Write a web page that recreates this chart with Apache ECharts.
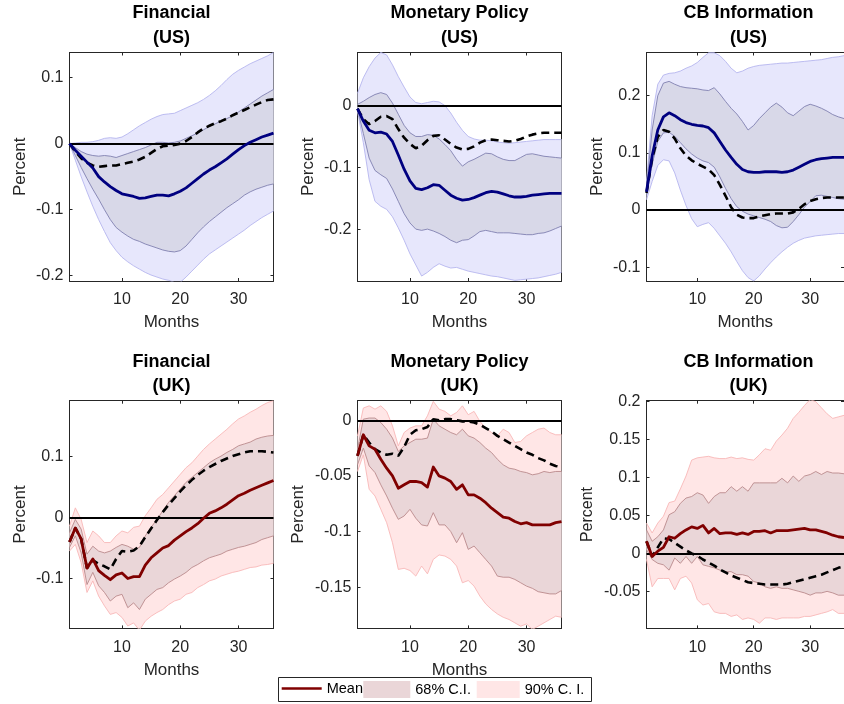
<!DOCTYPE html>
<html>
<head>
<meta charset="utf-8">
<script src="https://cdn.jsdelivr.net/npm/echarts@6/dist/echarts.min.js"></script>
<style>
  html, body { margin: 0; padding: 0; background: #ffffff; }
  #chart { width: 844px; height: 704px; }
</style>
</head>
<body>
<div id="chart"></div>
<script>
// Impulse responses (percent) over a 36-month horizon, six panels.
const months = [1,2,3,4,5,6,7,8,9,10,11,12,13,14,15,16,17,18,19,20,21,22,23,24,25,26,27,28,29,30,31,32,33,34,35,36];
const xTickValues = [10, 20, 30];

// ---- Financial (US)
const finUS_mean = [0,-0.010,-0.019,-0.028,-0.037,-0.050,-0.058,-0.065,-0.071,-0.076,-0.078,-0.080,-0.083,-0.082,-0.080,-0.078,-0.078,-0.079,-0.076,-0.072,-0.067,-0.060,-0.053,-0.046,-0.040,-0.035,-0.029,-0.023,-0.016,-0.009,-0.003,0.002,0.006,0.010,0.013,0.016];
const finUS_dash = [0,-0.012,-0.022,-0.029,-0.033,-0.035,-0.034,-0.033,-0.033,-0.031,-0.029,-0.027,-0.024,-0.020,-0.014,-0.008,-0.004,-0.003,-0.002,0.000,0.004,0.010,0.017,0.023,0.027,0.031,0.034,0.038,0.043,0.047,0.051,0.055,0.059,0.063,0.066,0.067];
const finUS_hi90 = [0,0.001,0.002,0.002,0.003,0.005,0.008,0.009,0.008,0.010,0.015,0.021,0.027,0.032,0.037,0.041,0.044,0.045,0.046,0.050,0.054,0.058,0.062,0.067,0.073,0.080,0.088,0.097,0.105,0.111,0.116,0.121,0.125,0.129,0.133,0.138];
const finUS_hi68 = [0,-0.006,-0.012,-0.016,-0.018,-0.019,-0.018,-0.019,-0.021,-0.018,-0.015,-0.012,-0.009,-0.006,-0.002,0.002,0.002,0.001,0.002,0.004,0.008,0.012,0.016,0.021,0.026,0.030,0.034,0.038,0.042,0.048,0.054,0.060,0.066,0.072,0.077,0.082];
const finUS_lo68 = [0,-0.018,-0.036,-0.053,-0.069,-0.084,-0.100,-0.115,-0.127,-0.134,-0.140,-0.145,-0.148,-0.152,-0.155,-0.158,-0.161,-0.163,-0.164,-0.162,-0.155,-0.145,-0.135,-0.126,-0.118,-0.111,-0.104,-0.097,-0.091,-0.085,-0.078,-0.073,-0.069,-0.066,-0.063,-0.061];
const finUS_lo90 = [0,-0.025,-0.050,-0.073,-0.095,-0.115,-0.133,-0.150,-0.162,-0.172,-0.179,-0.185,-0.190,-0.195,-0.199,-0.202,-0.205,-0.207,-0.210,-0.210,-0.202,-0.193,-0.184,-0.175,-0.167,-0.161,-0.155,-0.149,-0.143,-0.137,-0.131,-0.124,-0.118,-0.112,-0.107,-0.102];

// ---- Monetary Policy (US)
const mpUS_mean = [-0.005,-0.025,-0.040,-0.044,-0.043,-0.046,-0.058,-0.080,-0.103,-0.122,-0.134,-0.136,-0.133,-0.128,-0.129,-0.137,-0.145,-0.150,-0.153,-0.152,-0.149,-0.145,-0.141,-0.139,-0.140,-0.143,-0.146,-0.148,-0.148,-0.147,-0.145,-0.144,-0.143,-0.142,-0.142,-0.142];
const mpUS_dash = [-0.005,-0.022,-0.030,-0.025,-0.018,-0.017,-0.022,-0.038,-0.052,-0.062,-0.069,-0.065,-0.056,-0.049,-0.048,-0.055,-0.062,-0.068,-0.071,-0.070,-0.066,-0.060,-0.056,-0.055,-0.056,-0.057,-0.058,-0.057,-0.054,-0.050,-0.047,-0.045,-0.044,-0.044,-0.044,-0.044];
const mpUS_hi90 = [0.020,0.045,0.063,0.077,0.086,0.082,0.066,0.047,0.030,0.014,0.005,0.003,0.005,0.007,0.006,0.000,-0.012,-0.027,-0.040,-0.050,-0.054,-0.056,-0.056,-0.057,-0.059,-0.060,-0.061,-0.060,-0.059,-0.058,-0.057,-0.056,-0.055,-0.055,-0.055,-0.055];
const mpUS_hi68 = [0.002,0.007,0.013,0.018,0.021,0.018,0.004,-0.014,-0.032,-0.044,-0.050,-0.050,-0.047,-0.048,-0.054,-0.063,-0.073,-0.087,-0.098,-0.091,-0.087,-0.082,-0.077,-0.078,-0.083,-0.087,-0.089,-0.089,-0.084,-0.079,-0.078,-0.080,-0.082,-0.083,-0.084,-0.085];
const mpUS_lo68 = [-0.006,-0.045,-0.085,-0.105,-0.112,-0.118,-0.135,-0.155,-0.175,-0.190,-0.200,-0.202,-0.200,-0.203,-0.207,-0.212,-0.218,-0.222,-0.218,-0.217,-0.211,-0.204,-0.202,-0.204,-0.206,-0.206,-0.206,-0.207,-0.208,-0.209,-0.209,-0.207,-0.206,-0.203,-0.199,-0.195];
const mpUS_lo90 = [-0.009,-0.060,-0.120,-0.155,-0.163,-0.168,-0.180,-0.198,-0.218,-0.240,-0.258,-0.276,-0.270,-0.262,-0.256,-0.260,-0.263,-0.262,-0.265,-0.268,-0.270,-0.272,-0.274,-0.276,-0.277,-0.279,-0.281,-0.283,-0.282,-0.281,-0.280,-0.279,-0.277,-0.275,-0.273,-0.270];

// ---- CB Information (US)
const cbUS_mean = [0.032,0.095,0.140,0.163,0.170,0.165,0.158,0.153,0.150,0.148,0.147,0.144,0.135,0.120,0.105,0.092,0.080,0.071,0.067,0.066,0.066,0.067,0.067,0.067,0.066,0.067,0.070,0.075,0.080,0.085,0.088,0.090,0.091,0.092,0.092,0.092];
const cbUS_dash = [0.030,0.090,0.128,0.140,0.137,0.125,0.108,0.095,0.087,0.081,0.076,0.071,0.061,0.044,0.025,0.005,-0.008,-0.013,-0.014,-0.014,-0.011,-0.009,-0.007,-0.006,-0.006,-0.006,-0.004,0.002,0.010,0.016,0.019,0.021,0.022,0.022,0.022,0.022];
const cbUS_hi90 = [0.050,0.165,0.220,0.236,0.239,0.240,0.243,0.248,0.252,0.258,0.267,0.275,0.275,0.270,0.260,0.248,0.240,0.243,0.248,0.251,0.253,0.254,0.255,0.256,0.257,0.257,0.258,0.259,0.260,0.261,0.262,0.263,0.265,0.267,0.268,0.270];
const cbUS_hi68 = [0.038,0.140,0.200,0.222,0.225,0.220,0.216,0.214,0.213,0.212,0.210,0.209,0.214,0.203,0.190,0.178,0.168,0.155,0.140,0.148,0.160,0.170,0.180,0.187,0.180,0.170,0.165,0.173,0.181,0.185,0.182,0.178,0.173,0.167,0.163,0.160];
const cbUS_lo68 = [0.026,0.080,0.120,0.135,0.136,0.129,0.118,0.107,0.098,0.091,0.086,0.083,0.075,0.058,0.038,0.020,0.006,-0.002,-0.007,-0.010,-0.013,-0.016,-0.020,-0.027,-0.031,-0.030,-0.020,-0.008,0.005,0.015,0.025,0.026,0.024,0.022,0.020,0.019];
const cbUS_lo90 = [0.018,0.050,0.078,0.088,0.086,0.065,0.035,0.008,-0.015,-0.029,-0.025,-0.022,-0.032,-0.045,-0.058,-0.073,-0.090,-0.106,-0.118,-0.124,-0.115,-0.103,-0.092,-0.082,-0.073,-0.065,-0.058,-0.053,-0.049,-0.047,-0.045,-0.044,-0.043,-0.042,-0.041,-0.041];

// ---- Financial (UK)
const finUK_mean = [-0.040,-0.017,-0.035,-0.083,-0.068,-0.087,-0.095,-0.102,-0.094,-0.091,-0.100,-0.097,-0.097,-0.078,-0.066,-0.058,-0.050,-0.046,-0.037,-0.030,-0.023,-0.017,-0.010,-0.001,0.007,0.011,0.016,0.022,0.029,0.036,0.040,0.045,0.049,0.053,0.057,0.061];
const finUK_dash = [-0.040,-0.017,-0.035,-0.083,-0.070,-0.076,-0.080,-0.085,-0.068,-0.055,-0.056,-0.054,-0.047,-0.032,-0.018,-0.004,0.009,0.021,0.032,0.043,0.053,0.062,0.070,0.077,0.083,0.088,0.093,0.097,0.101,0.104,0.107,0.109,0.109,0.109,0.108,0.107];
const finUK_hi90 = [-0.014,0.016,-0.003,-0.041,-0.022,-0.030,-0.041,-0.041,-0.030,-0.022,-0.025,-0.016,-0.014,0.003,0.016,0.030,0.038,0.049,0.060,0.071,0.082,0.090,0.101,0.112,0.121,0.129,0.137,0.145,0.154,0.162,0.167,0.173,0.178,0.184,0.189,0.192];
const finUK_hi68 = [-0.025,-0.003,-0.019,-0.060,-0.047,-0.055,-0.058,-0.055,-0.049,-0.044,-0.047,-0.052,-0.049,-0.030,-0.016,-0.003,0.011,0.025,0.036,0.047,0.058,0.066,0.074,0.082,0.090,0.096,0.101,0.107,0.112,0.118,0.121,0.124,0.129,0.132,0.134,0.135];
const finUK_lo68 = [-0.049,-0.030,-0.058,-0.110,-0.090,-0.112,-0.123,-0.137,-0.129,-0.126,-0.148,-0.140,-0.151,-0.134,-0.126,-0.118,-0.115,-0.107,-0.101,-0.096,-0.090,-0.082,-0.077,-0.071,-0.066,-0.063,-0.060,-0.055,-0.052,-0.049,-0.047,-0.044,-0.041,-0.036,-0.033,-0.030];
const finUK_lo90 = [-0.055,-0.044,-0.074,-0.123,-0.104,-0.129,-0.145,-0.159,-0.156,-0.164,-0.178,-0.173,-0.185,-0.170,-0.162,-0.156,-0.151,-0.143,-0.137,-0.134,-0.126,-0.123,-0.115,-0.110,-0.104,-0.101,-0.096,-0.093,-0.090,-0.088,-0.085,-0.082,-0.081,-0.078,-0.077,-0.075];

// ---- Monetary Policy (UK)
const mpUK_mean = [-0.032,-0.013,-0.023,-0.026,-0.035,-0.043,-0.050,-0.061,-0.058,-0.055,-0.055,-0.056,-0.060,-0.042,-0.050,-0.052,-0.055,-0.062,-0.058,-0.067,-0.067,-0.070,-0.074,-0.079,-0.083,-0.087,-0.088,-0.091,-0.093,-0.092,-0.094,-0.094,-0.094,-0.094,-0.092,-0.091];
const mpUK_dash = [-0.032,-0.013,-0.020,-0.026,-0.029,-0.031,-0.030,-0.032,-0.024,-0.013,-0.009,-0.008,-0.006,0.001,0.000,0.001,0.001,0.000,-0.001,-0.001,-0.002,-0.004,-0.007,-0.010,-0.014,-0.017,-0.020,-0.023,-0.026,-0.029,-0.031,-0.034,-0.036,-0.039,-0.041,-0.042];
const mpUK_hi90 = [-0.014,0.011,0.013,0.010,0.013,0.008,-0.005,-0.023,-0.011,-0.007,-0.005,-0.005,0.004,0.017,0.010,0.008,0.004,0.007,0.013,0.005,0.008,-0.001,-0.007,-0.011,-0.014,-0.008,-0.011,-0.020,-0.019,-0.014,-0.011,-0.008,-0.007,-0.011,-0.013,-0.013];
const mpUK_hi68 = [-0.026,0.001,0.002,0.002,-0.002,-0.008,-0.016,-0.028,-0.023,-0.020,-0.017,-0.017,-0.016,0.001,-0.005,-0.008,-0.011,-0.013,-0.008,-0.014,-0.016,-0.020,-0.025,-0.029,-0.035,-0.040,-0.043,-0.044,-0.046,-0.047,-0.049,-0.048,-0.046,-0.047,-0.046,-0.046];
const mpUK_lo68 = [-0.040,-0.025,-0.041,-0.047,-0.058,-0.068,-0.079,-0.089,-0.086,-0.080,-0.088,-0.094,-0.095,-0.083,-0.094,-0.094,-0.100,-0.110,-0.101,-0.116,-0.113,-0.119,-0.125,-0.131,-0.140,-0.141,-0.141,-0.143,-0.146,-0.149,-0.151,-0.154,-0.155,-0.156,-0.156,-0.153];
const mpUK_lo90 = [-0.046,-0.031,-0.062,-0.068,-0.080,-0.092,-0.110,-0.134,-0.133,-0.135,-0.140,-0.131,-0.138,-0.125,-0.121,-0.122,-0.125,-0.131,-0.146,-0.144,-0.149,-0.158,-0.165,-0.170,-0.174,-0.177,-0.179,-0.182,-0.185,-0.183,-0.188,-0.185,-0.182,-0.179,-0.176,-0.177];

// ---- CB Information (UK)
const cbUK_mean = [0.016,-0.004,0.003,0.008,0.022,0.020,0.026,0.031,0.035,0.033,0.037,0.027,0.033,0.026,0.027,0.027,0.025,0.027,0.025,0.029,0.029,0.030,0.027,0.030,0.030,0.030,0.031,0.032,0.033,0.031,0.031,0.029,0.027,0.024,0.022,0.021];
const cbUK_dash = [0.016,-0.004,0.008,0.020,0.019,0.014,0.009,0.004,0.000,-0.003,-0.008,-0.012,-0.016,-0.021,-0.025,-0.029,-0.032,-0.035,-0.038,-0.039,-0.040,-0.041,-0.041,-0.041,-0.041,-0.040,-0.038,-0.036,-0.034,-0.032,-0.030,-0.028,-0.025,-0.022,-0.019,-0.017];
const cbUK_hi90 = [0.040,0.027,0.040,0.049,0.067,0.069,0.085,0.102,0.123,0.126,0.127,0.128,0.126,0.125,0.125,0.127,0.125,0.126,0.124,0.123,0.130,0.138,0.136,0.148,0.156,0.165,0.178,0.186,0.195,0.203,0.200,0.192,0.184,0.178,0.180,0.182];
const cbUK_hi68 = [0.031,0.016,0.022,0.031,0.051,0.055,0.066,0.073,0.075,0.080,0.077,0.066,0.075,0.080,0.080,0.088,0.082,0.088,0.082,0.093,0.093,0.093,0.093,0.093,0.099,0.093,0.102,0.095,0.102,0.104,0.108,0.104,0.108,0.106,0.106,0.105];
const cbUK_lo68 = [0.005,-0.008,-0.013,-0.015,-0.022,-0.006,-0.013,-0.004,-0.013,-0.004,-0.015,-0.017,-0.019,-0.022,-0.024,-0.024,-0.028,-0.028,-0.030,-0.037,-0.039,-0.044,-0.046,-0.044,-0.046,-0.046,-0.048,-0.050,-0.052,-0.055,-0.052,-0.052,-0.050,-0.052,-0.055,-0.055];
const cbUK_lo90 = [-0.008,-0.044,-0.033,-0.033,-0.033,-0.048,-0.033,-0.030,-0.039,-0.061,-0.068,-0.066,-0.077,-0.079,-0.079,-0.083,-0.081,-0.087,-0.085,-0.087,-0.092,-0.085,-0.085,-0.087,-0.085,-0.085,-0.085,-0.085,-0.083,-0.083,-0.081,-0.079,-0.077,-0.074,-0.079,-0.079];

// Y-axis limits and tick labels per panel
const yLimits = [
  [-0.208, 0.138], [-0.284, 0.086], [-0.124, 0.2755],
  [-0.182, 0.192], [-0.187, 0.0176], [-0.0988, 0.2013]
];
const yTickValues = [
  [-0.2, -0.1, 0, 0.1], [-0.2, -0.1, 0], [-0.1, 0, 0.1, 0.2],
  [-0.1, 0, 0.1], [-0.15, -0.1, -0.05, 0], [-0.05, 0, 0.05, 0.1, 0.15, 0.2]
];

const panelTitles = ['Financial', 'Monetary Policy', 'CB Information', 'Financial', 'Monetary Policy', 'CB Information'];
const panelRegions = ['(US)', '(US)', '(US)', '(UK)', '(UK)', '(UK)'];
const legendNames = ['Mean', '68% C.I.', '90% C. I.'];

const panelData = [
  { mean: finUS_mean, dash: finUS_dash, lo68: finUS_lo68, hi68: finUS_hi68, lo90: finUS_lo90, hi90: finUS_hi90 },
  { mean: mpUS_mean,  dash: mpUS_dash,  lo68: mpUS_lo68,  hi68: mpUS_hi68,  lo90: mpUS_lo90,  hi90: mpUS_hi90 },
  { mean: cbUS_mean,  dash: cbUS_dash,  lo68: cbUS_lo68,  hi68: cbUS_hi68,  lo90: cbUS_lo90,  hi90: cbUS_hi90 },
  { mean: finUK_mean, dash: finUK_dash, lo68: finUK_lo68, hi68: finUK_hi68, lo90: finUK_lo90, hi90: finUK_hi90 },
  { mean: mpUK_mean,  dash: mpUK_dash,  lo68: mpUK_lo68,  hi68: mpUK_hi68,  lo90: mpUK_lo90,  hi90: mpUK_hi90 },
  { mean: cbUK_mean,  dash: cbUK_dash,  lo68: cbUK_lo68,  hi68: cbUK_hi68,  lo90: cbUK_lo90,  hi90: cbUK_hi90 }
];

// ---- Styling and layout
const FONT = "'Liberation Sans', Arial, Helvetica, sans-serif";
const AXIS_COLOR = '#262626';
const palettes = {
  US: { mean: '#000080', fill90: 'rgb(231,231,252)', fill68: 'rgb(216,216,232)', edge90: 'rgb(182,182,238)', edge68: 'rgb(128,128,176)' },
  UK: { mean: '#800000', fill90: 'rgb(255,230,230)', fill68: 'rgb(234,214,216)', edge90: 'rgb(248,184,184)', edge68: 'rgb(186,138,140)' }
};
const boxes = [
  { left: 69.5,  top: 52.5,  width: 204, height: 228.5 },
  { left: 357.5, top: 52.5,  width: 204, height: 228.5 },
  { left: 646.5, top: 52.5,  width: 204.2, height: 228.5 },
  { left: 69.5,  top: 400.7, width: 204, height: 227.7 },
  { left: 357.5, top: 400.7, width: 204, height: 227.7 },
  { left: 646.5, top: 400.7, width: 204.2, height: 227.7 }
];
const yNameGaps = [41, 41, 41, 41, 50.5, 50.5];
const axisNameSizes = [17, 17, 17, 17, 17, 16];

const pairs = arr => months.map((m, i) => [m, arr[i]]);
const triples = (lo, hi) => months.map((m, i) => [m, lo[i], hi[i]]);

// Filled confidence band: one polygon built from every [month, lower, upper] row
function bandRenderer(color) {
  return function (params, api) {
    if (params.dataIndexInside !== 0) return;
    const n = params.dataInsideLength;
    const upper = [], lower = [];
    for (let i = 0; i < n; i++) {
      const x = api.value(0, i);
      upper.push(api.coord([x, api.value(2, i)]));
      lower.push(api.coord([x, api.value(1, i)]));
    }
    return {
      type: 'polygon',
      shape: { points: upper.concat(lower.reverse()) },
      style: { fill: color, stroke: null }
    };
  };
}

const grids = [], xAxes = [], yAxes = [], series = [], graphics = [];

panelData.forEach((d, p) => {
  const b = boxes[p];
  const isUK = p >= 3;
  const pal = isUK ? palettes.UK : palettes.US;
  grids.push({ left: b.left, top: b.top, width: b.width, height: b.height, containLabel: false });

  const tickFont = { fontFamily: FONT, fontSize: 16, color: AXIS_COLOR };
  const nameFont = { fontFamily: FONT, fontSize: axisNameSizes[p], color: AXIS_COLOR };
  const line = { show: true, onZero: false, lineStyle: { color: AXIS_COLOR, width: 1 } };
  const tick = vals => ({ show: true, inside: true, length: 3, customValues: vals, lineStyle: { color: AXIS_COLOR } });

  xAxes.push({
    gridIndex: p, type: 'value', position: 'bottom', min: 1, max: 36,
    axisLine: line, splitLine: { show: false }, axisTick: tick(xTickValues),
    axisLabel: { show: true, customValues: xTickValues, margin: 11, ...tickFont },
    name: 'Months', nameLocation: 'middle', nameGap: 33, nameTextStyle: nameFont
  });
  xAxes.push({
    gridIndex: p, type: 'value', position: 'top', min: 1, max: 36,
    axisLine: line, splitLine: { show: false }, axisTick: tick(xTickValues), axisLabel: { show: false }
  });
  yAxes.push({
    gridIndex: p, type: 'value', position: 'left', min: yLimits[p][0], max: yLimits[p][1],
    axisLine: line, splitLine: { show: false }, axisTick: tick(yTickValues[p]),
    axisLabel: { show: true, customValues: yTickValues[p], margin: 6, ...tickFont },
    name: 'Percent', nameLocation: 'middle', nameGap: yNameGaps[p], nameRotate: 90, nameTextStyle: nameFont
  });
  yAxes.push({
    gridIndex: p, type: 'value', position: 'right', min: yLimits[p][0], max: yLimits[p][1],
    axisLine: line, splitLine: { show: false }, axisTick: tick(yTickValues[p]), axisLabel: { show: false }
  });

  const axes = { xAxisIndex: 2 * p, yAxisIndex: 2 * p, silent: true, animation: false };
  const base = { ...axes, type: 'line', symbol: 'none', showSymbol: false };

  // confidence bands
  series.push({ ...axes, type: 'custom', name: isUK ? legendNames[2] : '90% C. I. (US)', clip: true, z: 1,
    itemStyle: { color: pal.fill90 }, encode: { x: 0, y: [1, 2] },
    data: triples(d.lo90, d.hi90), renderItem: bandRenderer(pal.fill90) });
  series.push({ ...axes, type: 'custom', name: isUK ? legendNames[1] : '68% C.I. (US)', clip: true, z: 1,
    itemStyle: { color: pal.fill68 }, encode: { x: 0, y: [1, 2] },
    data: triples(d.lo68, d.hi68), renderItem: bandRenderer(pal.fill68) });
  // band edges
  [['lo90', pal.edge90], ['hi90', pal.edge90], ['lo68', pal.edge68], ['hi68', pal.edge68]].forEach(([k, c]) => {
    series.push({ ...base, name: k + '-edge-' + p, data: pairs(d[k]), lineStyle: { color: c, width: 0.9 }, z: 2 });
  });
  // alternative specification (dashed) with the zero reference line
  series.push({ ...base, name: 'alt-' + p, data: pairs(d.dash),
    lineStyle: { color: '#000000', width: 2.6, type: [8, 5] }, z: 3,
    markLine: { silent: true, symbol: 'none', animation: false, z: 3, label: { show: false },
      lineStyle: { color: '#000000', width: 2, type: 'solid' }, data: [{ yAxis: 0 }] } });
  // mean response
  series.push({ ...base, name: isUK ? legendNames[0] : 'Mean (US)', data: pairs(d.mean),
    itemStyle: { color: pal.mean }, lineStyle: { color: pal.mean, width: 2.8, join: 'round' }, z: 4 });

  // panel title (two lines)
  const cx = b.left + b.width / 2;
  const ty = p < 3 ? 13.5 : 361.7;
  graphics.push({ type: 'text', z: 10, style: { text: panelTitles[p], x: cx, y: ty, align: 'center', verticalAlign: 'middle',
    font: 'bold 18px ' + FONT, fill: '#000000' } });
  graphics.push({ type: 'text', z: 10, style: { text: panelRegions[p], x: cx, y: ty + 24.6, align: 'center', verticalAlign: 'middle',
    font: 'bold 18px ' + FONT, fill: '#000000' } });
});

// legend frame
graphics.push({ type: 'rect', z: 50, shape: { x: 278.5, y: 677.5, width: 313, height: 24 },
  style: { fill: '#ffffff', stroke: '#262626', lineWidth: 1 } });

const legendText = { fontFamily: FONT, fontSize: 14.5, color: '#000000' };
const legends = [
  { data: [{ name: legendNames[0], icon: 'rect', itemStyle: { color: palettes.UK.mean, borderWidth: 0 } }],
    left: 281.7, top: 681, itemWidth: 40, itemHeight: 2.6 },
  { data: [{ name: legendNames[1], icon: 'rect', itemStyle: { color: palettes.UK.fill68, borderWidth: 0 } }],
    left: 363.3, top: 681, itemWidth: 47, itemHeight: 17 },
  { data: [{ name: legendNames[2], icon: 'rect', itemStyle: { color: palettes.UK.fill90, borderWidth: 0 } }],
    left: 476.7, top: 681, itemWidth: 43, itemHeight: 17 }
].map(l => ({ ...l, orient: 'horizontal', padding: 0, itemGap: 0, selectedMode: false, z: 60, textStyle: legendText }));

const chart = echarts.init(document.getElementById('chart'), null, { renderer: 'canvas' });
chart.setOption({
  animation: false,
  backgroundColor: '#ffffff',
  grid: grids,
  xAxis: xAxes,
  yAxis: yAxes,
  legend: legends,
  graphic: { elements: graphics },
  series: series
});
</script>
</body>
</html>
